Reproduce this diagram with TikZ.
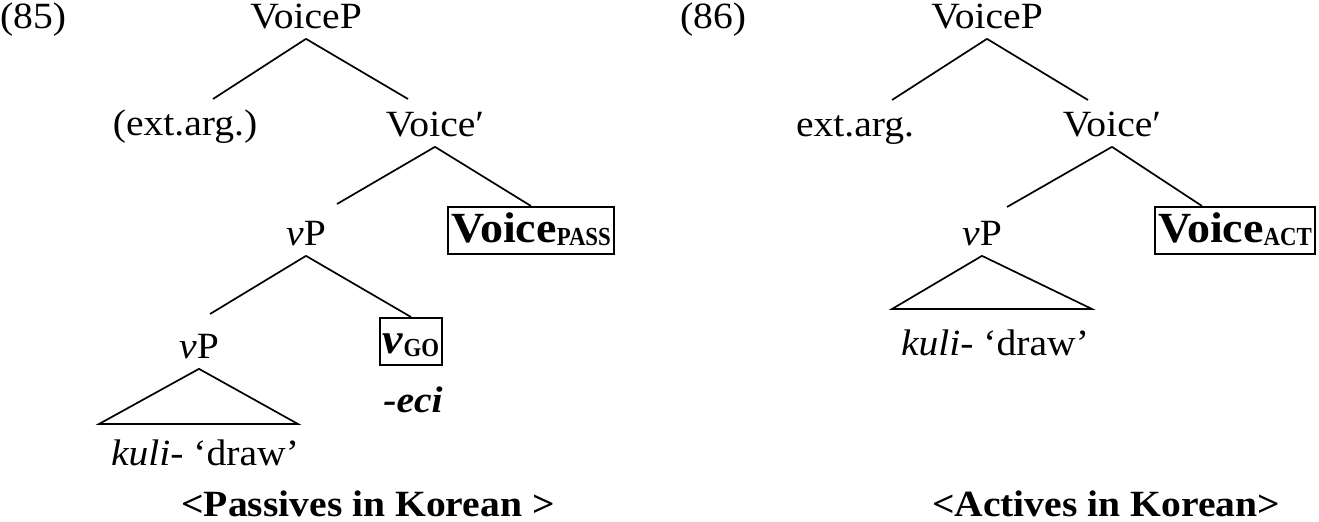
\documentclass[tikz,border=0pt]{standalone}
\usepackage{fontspec}
\usepackage{graphicx}
\setmainfont{Liberation Serif}[FakeStretch=1.07]
\usetikzlibrary{calc}
\newcommand\subsc[1]{\raisebox{-1.5pt}{\fontsize{13}{13}\selectfont\bfseries\scalebox{0.82}[1]{#1}}}
\begin{document}
\begin{tikzpicture}[x=0.5pt,y=-0.5pt, line width=0.85pt,
  lbl/.style={font=\fontsize{18.5}{22}\selectfont, anchor=base, inner sep=4pt, text height=14pt, text depth=1pt},
  plain/.style={font=\fontsize{18.5}{22}\selectfont, anchor=base, inner sep=0pt},
  headbox/.style={draw, anchor=north, font=\fontsize{21.5}{24}\selectfont\bfseries, inner xsep=1.5pt, inner ysep=3pt, text height=15pt, text depth=2.5pt},
  captionstyle/.style={font=\fontsize{18.5}{22}\selectfont\bfseries, anchor=base, inner sep=0pt}]
\useasboundingbox (0,0) rectangle (1319,521);

% ---------------- (85) passive ----------------
\node[plain] (n85) at (33,28) {(85)};
\node[lbl] (LVoiceP) at (306,28) {VoiceP};
\node[lbl] (Lext) at (185,135) {(ext.arg.)};
\node[lbl] (LVbar) at (435,136) {Voice′};
\node[lbl] (LvP) at (306,245) {\textit{v}P};
\node[headbox] (LVpass) at (531,206) {Voice\subsc{PASS}};
\node[lbl] (LvP2) at (199,358) {\textit{v}P};
\node[headbox] (LvGO) at (411,317) {\textit{v}\subsc{GO}};
\node[plain] (Leci) at (413,412) {\textbf{\textit{-eci}}};
\node[plain] (Lkuli) at (205,465) {\textit{kuli}- ‘draw’};
\node[captionstyle] (Lcap) at (368,516) {<Passives in Korean >};

\coordinate (Le1) at (213,99);
\coordinate (Le2) at (408,99);
\coordinate (Le3) at (337,204);
\coordinate (Le4) at (210,314);
\coordinate (Ltl) at (99,424);
\coordinate (Ltr) at (298,424);

\draw (LVoiceP.south) -- (Le1);
\draw (LVoiceP.south) -- (Le2);
\draw (LVbar.south) -- (Le3);
\draw (LVbar.south) -- (LVpass.north);
\draw (LvP.south) -- (Le4);
\draw (LvP.south) -- (LvGO.north);
\draw (LvP2.south) -- (Ltl) -- (Ltr) -- cycle;

% ---------------- (86) active ----------------
\node[plain] (n86) at (713,28) {(86)};
\node[lbl] (RVoiceP) at (987,28) {VoiceP};
\node[lbl] (Rext) at (855,136) {ext.arg.};
\node[lbl] (RVbar) at (1112,136) {Voice′};
\node[lbl] (RvP) at (982,245) {\textit{v}P};
\node[headbox] (RVact) at (1235,206) {Voice\subsc{ACT}};
\node[plain] (Rkuli) at (995,355) {\textit{kuli}- ‘draw’};
\node[captionstyle] (Rcap) at (1106,516) {<Actives in Korean>};

\coordinate (Re1) at (892,100);
\coordinate (Re2) at (1088,100);
\coordinate (Re3) at (1007,207);
\coordinate (Re4) at (1202,206);
\coordinate (Rtl) at (892,309);
\coordinate (Rtr) at (1092,309);

\draw (RVoiceP.south) -- (Re1);
\draw (RVoiceP.south) -- (Re2);
\draw (RVbar.south) -- (Re3);
\draw (RVbar.south) -- (Re4);
\draw (RvP.south) -- (Rtl) -- (Rtr) -- cycle;
\end{tikzpicture}
\end{document}
